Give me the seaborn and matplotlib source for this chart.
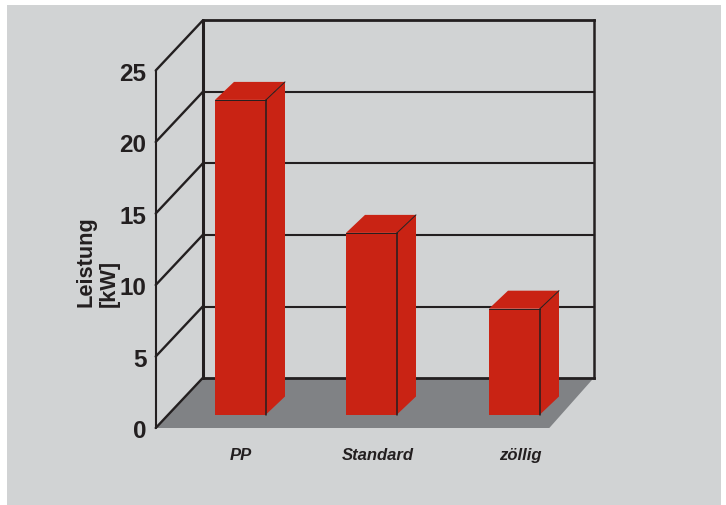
import matplotlib
matplotlib.use("Agg")
import matplotlib.pyplot as plt
from matplotlib.patches import Polygon, Rectangle
import pandas as pd
import seaborn as sns

# values
categories = ["PP", "Standard", "zöllig"]
power_kw = [22.0, 12.7, 7.4]
y_ticks = [0, 5, 10, 15, 20, 25]
y_label = "Leistung\n[kW]"

# drawing set-up, x axis is in pixels, y axis in kW
PX_PER_KW = 14.3
BASE_ROW = 414.5
bar_centers = [240.5, 371.5, 514.5]
label_centers = [240.5, 378, 520]

PANEL = "#D1D3D4"
FLOOR = "#808285"
RED = "#C92314"
DARK = "#231F20"

df = pd.DataFrame({"pos": bar_centers, "kw": power_kw})

sns.set_theme(style="white")
fig = plt.figure(figsize=(7.26, 5.05), dpi=100, facecolor="white")
fig.patches.append(Rectangle((7 / 726, 0), 714 / 726, 500 / 505, transform=fig.transFigure,
                             facecolor=PANEL, edgecolor="none", figure=fig, zorder=-1))
ax = fig.add_axes([0, 0, 1, 1])
ax.patch.set_visible(False)


def row(p):
    # pixel row to kW
    return (BASE_ROW - p) / PX_PER_KW


# front faces of the bars
sns.barplot(data=df, x="pos", y="kw", native_scale=True, orient="x", width=51 / 131,
            color=RED, saturation=1, linewidth=0, ax=ax, zorder=3)
ax.set_xlim(0, 726)
ax.set_ylim(row(505), row(0))
ax.axis("off")

# floor
back_row = 378.0
front_row = 428.0
left_front, left_back = 155.7, 202.7
right_front, right_back = 549.3, 593.7
ax.add_patch(Polygon([(left_front, row(front_row)), (left_back, row(back_row)),
                      (right_back, row(back_row)), (right_front, row(front_row))],
                     closed=True, facecolor=FLOOR, edgecolor="none", zorder=1))

# walls and grid, v=0 on the front edge is the floor line
rise = (front_row - back_row) / PX_PER_KW
base = row(front_row)
top = max(y_ticks)
for v in y_ticks:
    ax.plot([left_front, left_back], [base + v, base + v + rise], color=DARK, lw=1.7, zorder=2,
            solid_capstyle="round")
    ax.plot([left_back, right_back], [base + v + rise, base + v + rise], color=DARK,
            lw=2.0 if v in (0, top) else 1.5, zorder=2, solid_capstyle="projecting")
    ax.text(146.5, base + v - 3.6 / PX_PER_KW, str(v), ha="right", va="center", color=DARK,
            fontsize=17.5, fontweight="bold", family="Liberation Sans", zorder=5)
ax.plot([left_front, left_front], [base, base + top], color=DARK, lw=1.5, zorder=2)
ax.plot([left_back, left_back], [base + rise, base + top + rise], color=DARK, lw=2.2, zorder=2)
ax.plot([right_back, right_back], [base + rise, base + top + rise], color=DARK, lw=1.8, zorder=2,
        solid_capstyle="projecting")

# sides and lids of the bars
dx, dy = 19, 18 / PX_PER_KW
for bar in list(ax.patches):
    if not isinstance(bar, Rectangle) or bar.get_width() > 100:
        continue
    x0 = bar.get_x()
    x1 = x0 + bar.get_width()
    h = bar.get_height()
    ax.add_patch(Polygon([(x1, 0), (x1 + dx, dy), (x1 + dx, h + dy), (x1, h)], closed=True,
                         facecolor=RED, edgecolor="none", zorder=3))
    ax.add_patch(Polygon([(x0, h), (x0 + dx, h + dy), (x1 + dx, h + dy), (x1, h)], closed=True,
                         facecolor=RED, edgecolor="none", zorder=3))
    ax.plot([x1, x1], [0, h], color=DARK, lw=1.1, zorder=4)
    ax.plot([x0, x1], [h, h], color=DARK, lw=0.7, zorder=4)
    ax.plot([x1, x1 + dx], [h, h + dy], color=DARK, lw=0.7, zorder=4)

for x, name in zip(label_centers, categories):
    ax.text(x, row(455.5), name, ha="center", va="center", color=DARK, fontsize=12,
            fontweight="bold", fontstyle="italic", family="Liberation Sans", zorder=5)

ax.text(97.5, row(307), y_label, rotation=90, ha="center", va="bottom", multialignment="left",
        color=DARK, fontsize=15.7, fontweight="bold", family="Liberation Sans", linespacing=1.1, zorder=4)

fig.savefig("out.png", dpi=100)
